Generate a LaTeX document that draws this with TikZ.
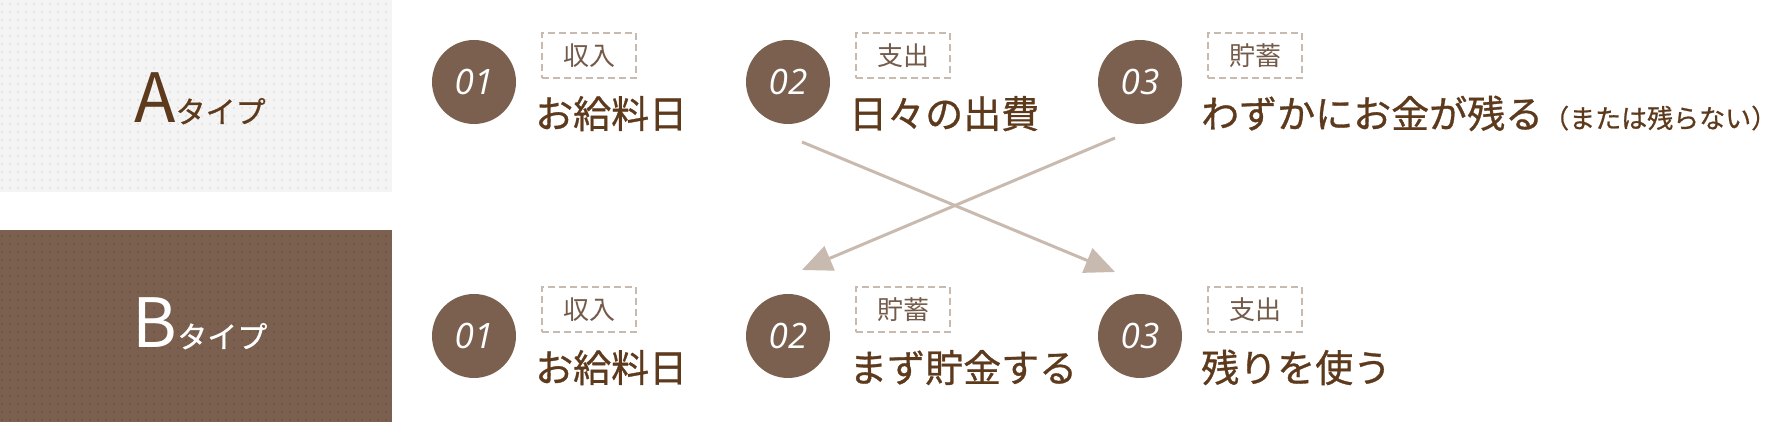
\documentclass[tikz,border=0pt]{standalone}
\usepackage{fontspec}
\setmainfont{Noto Sans CJK JP}
\newfontfamily\stepfont[FakeBold=0.8]{Noto Sans CJK JP}
\newfontfamily\numfont{Open Sans}
\usetikzlibrary{arrows.meta, calc}
\definecolor{cBrown}{HTML}{7B604F}
\definecolor{cText}{HTML}{5E3A1D}
\definecolor{cTag}{HTML}{735A49}
\definecolor{cLine}{HTML}{C9BAB0}
\definecolor{cPaper}{HTML}{F4F4F4}
\definecolor{cDotL}{HTML}{DCDCDC}
\definecolor{cDotD}{HTML}{6C5242}
\tikzset{
    numdot/.style  ={circle, fill=cBrown, minimum size=84pt, inner sep=0pt,
                     text=white, font=\numfont\itshape\fontsize{35}{35}\selectfont},
    tagbox/.style  ={draw=cLine, line width=2pt, dash pattern=on 7pt off 4pt,
                     minimum width=94pt, minimum height=45pt, inner sep=0pt,
                     text=cTag, font=\fontsize{26}{26}\selectfont},
    stepname/.style={anchor=base west, inner sep=0pt, text=cText,
                     font=\stepfont\fontsize{38}{38}\selectfont},
    typename/.style={anchor=base, inner sep=0pt},
    cross/.style   ={-{Triangle[length=30pt, width=26pt]}, line width=3pt, cLine},
}
\newcommand{\typeletter}[1]{{\fontsize{68}{68}\selectfont #1}}
\newcommand{\typekana}[1]{{\stepfont\fontsize{30}{30}\selectfont #1}}
\newcommand{\aside}[1]{{\fontsize{26}{26}\selectfont #1}}

\begin{document}
\begin{tikzpicture}[x=1pt, y=1pt]
\useasboundingbox (0,0) rectangle (1775,422);

% ===================== Paneles de tipo =====================
\fill[cPaper] (0,230) rectangle (392,422);
\foreach \i in {0,...,48}
  \foreach \j in {0,...,23}
    \fill[cDotL] (2+8*\i, 418-8*\j) circle (1pt);
\fill[cBrown] (0,0) rectangle (392,192);
\foreach \i in {0,...,48}
  \foreach \j in {0,...,23}
    \fill[cDotD] (2+8*\i, 186-8*\j) circle (1pt);

\node[typename, text=cText] (typeA) at (200,299) {\typeletter{A}\typekana{タイプ}};
\node[typename, text=white] (typeB) at (200,74)  {\typeletter{B}\typekana{タイプ}};

% ===================== Fila A =====================
\node[numdot] (a1) at (474,340)  {01};
\node[numdot] (a2) at (788,340)  {02};
\node[numdot] (a3) at (1140,340) {03};
\node[tagbox] (ta1) at ($(a1)+(115,26.5)$) {収入};
\node[tagbox] (ta2) at ($(a2)+(115,26.5)$) {支出};
\node[tagbox] (ta3) at ($(a3)+(115,26.5)$) {貯蓄};
\node[stepname] (sa1) at ($(a1)+(61,-46)$) {お給料日};
\node[stepname] (sa2) at ($(a2)+(61,-46)$) {日々の出費};
\node[stepname] (sa3) at ($(a3)+(61,-46)$) {わずかにお金が残る\aside{（または残らない）}};

% ===================== Fila B =====================
\node[numdot] (b1) at (474,86)  {01};
\node[numdot] (b2) at (788,86)  {02};
\node[numdot] (b3) at (1140,86) {03};
\node[tagbox] (tb1) at ($(b1)+(115,26.5)$) {収入};
\node[tagbox] (tb2) at ($(b2)+(115,26.5)$) {貯蓄};
\node[tagbox] (tb3) at ($(b3)+(115,26.5)$) {支出};
\node[stepname] (sb1) at ($(b1)+(61,-46)$) {お給料日};
\node[stepname] (sb2) at ($(b2)+(61,-46)$) {まず貯金する};
\node[stepname] (sb3) at ($(b3)+(61,-46)$) {残りを使う};

% ===================== Cruce de pasos =====================
\coordinate (out2) at ($(a2)+(14,-60)$);
\coordinate (in3)  at ($(b3)+(-25,64)$);
\coordinate (out3) at ($(a3)+(-25,-56)$);
\coordinate (in2)  at ($(b2)+(14,66)$);
\draw[cross] (out2) -- (in3);
\draw[cross] (out3) -- (in2);

\end{tikzpicture}
\end{document}
